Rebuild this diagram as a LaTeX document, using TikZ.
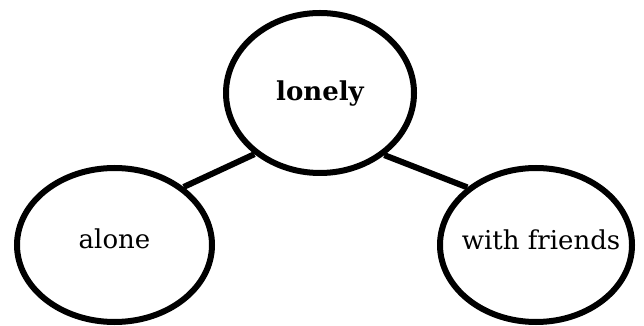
\documentclass[tikz,border=0pt]{standalone}
\usepackage{fontspec}
\setmainfont{DejaVu Serif}
\usetikzlibrary{shapes.geometric}
\begin{document}
\begin{tikzpicture}[x=1pt,y=1pt,
  bubble/.style={ellipse, draw, line width=6pt, inner sep=0pt, font=\fontsize{26}{31}\selectfont},
  link/.style={line width=6pt}]
\useasboundingbox (0,0) rectangle (644,326);
\node[bubble, minimum width=188pt, minimum height=160pt, text height=16pt, text depth=0pt,
      font=\fontsize{26}{31}\selectfont\bfseries] (lonely) at (320,233) {lonely};
\node[bubble, minimum width=195pt, minimum height=154pt, text height=6.6pt, text depth=0pt] (alone) at (114.5,81) {alone};
\node[bubble, minimum width=192pt, minimum height=154pt, inner xsep=-30pt, text height=10pt, text depth=0pt] (friends) at (536,81) {\hspace*{10pt}with friends};
\draw[link] (alone.40) -- (lonely.223);
\draw[link] (lonely.316) -- (friends.140);
\end{tikzpicture}
\end{document}
